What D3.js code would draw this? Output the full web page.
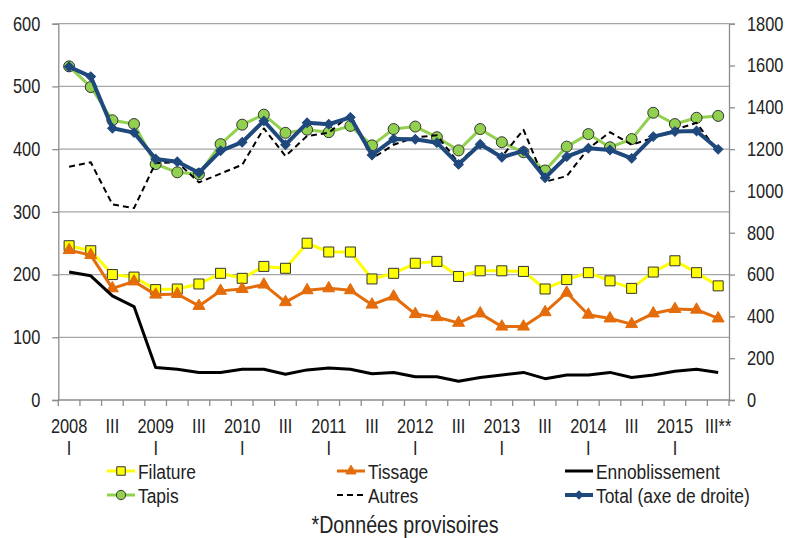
<!DOCTYPE html>
<html>
<head>
<meta charset="utf-8">
<script src="https://cdnjs.cloudflare.com/ajax/libs/d3/7.8.5/d3.min.js"></script>
<style>
    body { margin: 0; background: #fff; }
    text { font-family: "Liberation Sans", Arial, sans-serif; font-size: 20px; fill: #222; }
</style>
</head>
<body>
<svg id="chart" width="790" height="538"></svg>
<script>
// quarters 2008 T1 .. 2015 T3
const categories = [
    '2008T1', '2008T2', '2008T3', '2008T4', '2009T1', '2009T2', '2009T3', '2009T4',
    '2010T1', '2010T2', '2010T3', '2010T4', '2011T1', '2011T2', '2011T3', '2011T4',
    '2012T1', '2012T2', '2012T3', '2012T4', '2013T1', '2013T2', '2013T3', '2013T4',
    '2014T1', '2014T2', '2014T3', '2014T4', '2015T1', '2015T2', '2015T3'
];
const tickLabels = [
    '2008', '', 'III', '', '2009', '', 'III', '', '2010', '', 'III', '', '2011', '', 'III', '',
    '2012', '', 'III', '', '2013', '', 'III', '', '2014', '', 'III', '', '2015', '', 'III**'
];
const subLabels = [
    'I', '', '', '', 'I', '', '', '', 'I', '', '', '', 'I', '', '', '',
    'I', '', '', '', 'I', '', '', '', 'I', '', '', '', 'I', '', ''
];
const leftTicks = [0, 100, 200, 300, 400, 500, 600];
const rightTicks = [0, 200, 400, 600, 800, 1000, 1200, 1400, 1600, 1800];

const filature = [246, 238, 200, 196, 176, 177, 185, 202, 194, 213, 210, 250, 236, 236, 193, 202,
    218, 221, 197, 206, 206, 205, 177, 192, 203, 190, 178, 204, 222, 203, 182];
const tissage = [239, 231, 178, 189, 168, 169, 150, 174, 177, 184, 156, 175, 178, 175, 152, 165,
    137, 132, 123, 138, 117, 117, 140, 171, 136, 130, 121, 138, 145, 144, 130];
const ennoblissement = [204, 198, 166, 149, 52, 49, 44, 44, 49, 49, 41, 48, 51, 49, 42, 44,
    37, 37, 30, 36, 40, 44, 34, 40, 40, 44, 36, 40, 46, 49, 44];
const tapis = [532, 499, 446, 440, 376, 363, 360, 408, 439, 455, 426, 431, 427, 437, 406, 432,
    436, 419, 398, 432, 411, 395, 366, 404, 424, 403, 416, 458, 440, 450, 453];
const autres = [372, 379, 312, 306, 378, 379, 347, 361, 375, 433, 389, 421, 426, 455, 385, 407,
    419, 422, 378, 410, 388, 431, 348, 357, 401, 427, 407, 418, 431, 442, 395];
const total = [1594, 1547, 1300, 1279, 1153, 1140, 1087, 1192, 1233, 1335, 1221, 1326, 1319, 1352, 1172, 1249,
    1247, 1231, 1127, 1223, 1161, 1192, 1063, 1164, 1204, 1196, 1156, 1260, 1284, 1287, 1199];

const series = [
    { name: 'Filature', values: filature, axis: 'left', color: '#ffff00', width: 3, marker: 'square', fill: '#ffff00' },
    { name: 'Tissage', values: tissage, axis: 'left', color: '#e46c0a', width: 3, marker: 'triangle', fill: '#e46c0a' },
    { name: 'Ennoblissement', values: ennoblissement, axis: 'left', color: '#000', width: 3, marker: null },
    { name: 'Tapis', values: tapis, axis: 'left', color: '#92d050', width: 3, marker: 'circle', fill: '#92d050' },
    { name: 'Autres', values: autres, axis: 'left', color: '#000', width: 2, marker: null, dash: '6,4' },
    { name: 'Total (axe de droite)', values: total, axis: 'right', color: '#1f497d', width: 4, marker: 'diamond', fill: '#1f497d' }
];

const svg = d3.select('#chart');
const plot = { left: 58.3, right: 729, top: 23.7, bottom: 400 };

// no narrow face installed: squeeze the regular one around its anchor
function narrow(sel, k) {
    const f = k || 0.82;
    sel.each(function () {
        const t = d3.select(this);
        const ax = +t.attr('x') || 0;
        t.attr('transform', `translate(${ax},0) scale(${f},1) translate(${-ax},0)`);
    });
}

const x = d3.scaleBand().domain(categories).range([plot.left, plot.right]);
const yL = d3.scaleLinear().domain([0, 600]).range([plot.bottom, plot.top]);
const yR = d3.scaleLinear().domain([0, 1800]).range([plot.bottom, plot.top]);

// grid
svg.append('g').selectAll('line')
    .data(leftTicks.slice(1))
    .enter().append('line')
    .attr('x1', plot.left).attr('x2', plot.right)
    .attr('y1', d => yL(d)).attr('y2', d => yL(d))
    .attr('stroke', '#a6a6a6').attr('stroke-width', 1.3);

// left axis
const gL = svg.append('g')
    .attr('transform', `translate(${plot.left},0)`)
    .call(d3.axisLeft(yL).tickValues(leftTicks).tickSize(6).tickPadding(12).tickFormat(d3.format('d')));
// right axis
const gR = svg.append('g')
    .attr('transform', `translate(${plot.right},0)`)
    .call(d3.axisRight(yR).tickValues(rightTicks).tickSize(6).tickPadding(12).tickFormat(d3.format('d')));
[gL, gR].forEach(g => {
    g.select('.domain').attr('stroke', '#8c8c8c').attr('stroke-width', 1.3);
    g.selectAll('.tick line').attr('stroke', '#8c8c8c').attr('stroke-width', 1.3);
    g.selectAll('.tick text').style('font-size', '20px').attr('fill', '#222').call(narrow);
});

// bottom axis: ticks on band edges
const edges = categories.map(c => x(c)).concat([plot.right]);
svg.append('line')
    .attr('x1', plot.left).attr('x2', plot.right).attr('y1', plot.bottom).attr('y2', plot.bottom)
    .attr('stroke', '#8c8c8c').attr('stroke-width', 1.3);
svg.append('g').selectAll('line')
    .data(edges)
    .enter().append('line')
    .attr('x1', d => d).attr('x2', d => d)
    .attr('y1', plot.bottom).attr('y2', plot.bottom + 6)
    .attr('stroke', '#8c8c8c').attr('stroke-width', 1.3);

const labels = svg.append('g');
labels.selectAll('text.main')
    .data(categories)
    .enter().append('text')
    .attr('class', 'main')
    .attr('x', d => x(d) + x.bandwidth() / 2)
    .attr('y', 433)
    .attr('text-anchor', 'middle')
    .text((d, i) => tickLabels[i])
    .call(narrow);
labels.selectAll('text.sub')
    .data(categories)
    .enter().append('text')
    .attr('class', 'sub')
    .attr('x', d => x(d) + x.bandwidth() / 2)
    .attr('y', 455)
    .attr('text-anchor', 'middle')
    .text((d, i) => subLabels[i])
    .call(narrow);

function markerPath(type, scale) {
    const s = scale || 1;
    if (type === 'square') return d3.symbol(d3.symbolSquare, 100 * s * s)();
    if (type === 'triangle') return d3.symbol(d3.symbolTriangle, 62 * s * s)();
    if (type === 'circle') return d3.symbol(d3.symbolCircle, 95 * s * s)();
    if (type === 'diamond') return d3.symbol(d3.symbolSquare, 45 * s * s)();
    return null;
}

// series
series.forEach(s => {
    const y = s.axis === 'left' ? yL : yR;
    const line = d3.line()
        .x((d, i) => x(categories[i]) + x.bandwidth() / 2)
        .y(d => y(d));
    const g = svg.append('g');
    g.append('path')
        .datum(s.values)
        .attr('d', line)
        .attr('fill', 'none')
        .attr('stroke', s.color)
        .attr('stroke-width', s.width)
        .attr('stroke-dasharray', s.dash || null)
        .attr('stroke-linejoin', 'round');
    if (s.marker) {
        g.selectAll('path.m')
            .data(s.values)
            .enter().append('path')
            .attr('class', 'm')
            .attr('d', markerPath(s.marker))
            .attr('transform', (d, i) => {
                const tx = x(categories[i]) + x.bandwidth() / 2;
                const rot = s.marker === 'diamond' ? ' rotate(45)' : '';
                return `translate(${tx},${y(d)})${rot}`;
            })
            .attr('fill', s.fill)
            .attr('stroke', s.marker === 'diamond' || s.marker === 'triangle' ? s.color : '#333')
            .attr('stroke-width', 1);
    }
});

// legend
const legendPos = [
    { x: 138, y: 471 }, { x: 368, y: 471 }, { x: 596, y: 471 },
    { x: 138, y: 495 }, { x: 368, y: 495 }, { x: 596, y: 495 }
];
series.forEach((s, k) => {
    const p = legendPos[k];
    const g = svg.append('g').attr('transform', `translate(${p.x},${p.y})`);
    g.append('line')
        .attr('x1', -31).attr('x2', -3).attr('y1', 0).attr('y2', 0)
        .attr('stroke', s.color).attr('stroke-width', s.width)
        .attr('stroke-dasharray', s.dash || null);
    if (s.marker) {
        g.append('path')
            .attr('d', markerPath(s.marker, 0.85))
            .attr('transform', `translate(-17,0)${s.marker === 'diamond' ? ' rotate(45)' : ''}`)
            .attr('fill', s.fill)
            .attr('stroke', s.marker === 'diamond' || s.marker === 'triangle' ? s.color : '#333')
            .attr('stroke-width', 1);
    }
    g.append('text')
        .attr('x', 0).attr('y', 7.5)
        .text(s.name)
        .call(narrow, 0.87);
});

svg.append('text')
    .attr('x', 405).attr('y', 533)
    .attr('text-anchor', 'middle')
    .style('font-size', '24px')
    .text('*Données provisoires')
    .call(narrow);
</script>
</body>
</html>
